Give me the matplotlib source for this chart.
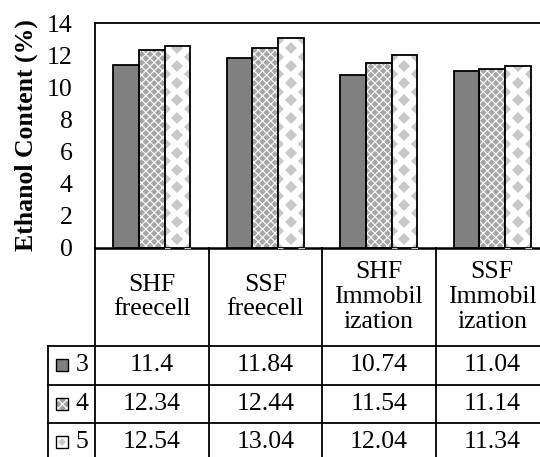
import numpy as np
import matplotlib
matplotlib.use('Agg')
import matplotlib.pyplot as plt
from matplotlib.patches import Rectangle

plt.rcParams['font.family'] = ['Liberation Serif', 'DejaVu Serif']
plt.rcParams['hatch.linewidth'] = 0.8

categories = ['SHF\nfreecell', 'SSF\nfreecell', 'SHF\nImmobil\nization', 'SSF\nImmobil\nization']
series = ['3', '4', '5']
val_3 = [11.4, 11.84, 10.74, 11.04]
val_4 = [12.34, 12.44, 11.54, 11.14]
val_5 = [12.54, 13.04, 12.04, 11.34]
yticks = [0, 2, 4, 6, 8, 10, 12, 14]

values = [val_3, val_4, val_5]

# figure layout in pixels
W, H = 540, 457
cat_w = 113.5
x_left, y_top, y_base = 95, 23, 248
key_left = 48
head_h, row_h = 98, 38.5
fs = 18.5
lw = 1.3
dark = '#808080'
checker_face, checker_line = '#a6a6a6', 'white'
diamond = '#c8c8c8'

fig = plt.figure(figsize=(W / 100, H / 100), dpi=100)
ax = fig.add_axes([x_left / W, 1 - y_base / H, 4 * cat_w / W, (y_base - y_top) / H])

x = np.arange(len(categories))
bw = 0.225
offs = [-bw, 0, bw]

for i, vals in enumerate(values):
    xs = x + offs[i]
    if i == 0:
        ax.bar(xs, vals, bw, color=dark, edgecolor='black', linewidth=lw, zorder=3)
    elif i == 1:
        ax.bar(xs, vals, bw, color=checker_face, edgecolor=checker_line, hatch='xxxx',
               linewidth=0, zorder=2)
        ax.bar(xs, vals, bw, fill=False, edgecolor='black', linewidth=lw, zorder=3)
    else:
        ax.bar(xs, vals, bw, color='white', linewidth=0, zorder=3.2)
        outlines = ax.bar(xs, vals, bw, fill=False, edgecolor='black', linewidth=lw, zorder=3.6)
        # diamond fill pattern, clipped to each bar
        period = 1.08
        for b, xc, v in zip(outlines, xs, vals):
            ys_c = np.arange(period / 2, v + period, period)
            ys_e = np.arange(0, v + period, period)
            px = np.concatenate([np.full(len(ys_c), xc), np.full(len(ys_e), xc - bw / 2),
                                 np.full(len(ys_e), xc + bw / 2)])
            py = np.concatenate([ys_c, ys_e, ys_e])
            ln, = ax.plot(px, py, 'D', ms=5.8, color=diamond, mew=0, zorder=3.4)
            ln.set_clip_path(b)

ax.set_xlim(-0.5, 3.5)
ax.set_ylim(0, 14)
ax.set_yticks(yticks)
ax.set_xticks([])
ax.tick_params(axis='y', length=0, pad=16, labelsize=fs)
for s in ax.spines.values():
    s.set_linewidth(lw)
    s.set_color('black')
ax.spines['bottom'].set_linewidth(1.8)
ax.set_ylabel('Ethanol Content (%)', fontsize=fs, fontweight='bold')
ax.yaxis.set_label_coords(-0.126, 0.5)

# data table under the chart
y_end = y_base + head_h + 3 * row_h
tx = fig.add_axes([key_left / W, 1 - y_end / H, (x_left + 4 * cat_w - key_left) / W,
                   (y_end - y_base) / H])
kx0 = -0.5 - (x_left - key_left) / cat_w
tx.set_xlim(kx0, 3.5)
tx.set_ylim(y_end, y_base)
tx.axis('off')

rows = [y_base + head_h + k * row_h for k in range(4)]
for yy in rows:
    tx.plot([kx0, 3.5], [yy, yy], color='black', lw=lw, clip_on=False)
tx.plot([kx0, kx0], [rows[0], rows[-1]], color='black', lw=lw, clip_on=False)
for xb in np.arange(-0.5, 4.0, 1.0):
    tx.plot([xb, xb], [y_base, y_end], color='black', lw=lw, clip_on=False)

for j, c in enumerate(categories):
    tx.text(x[j], y_base + head_h / 2, c, ha='center', va='center', fontsize=fs,
            linespacing=1.15)

px_x = 1 / cat_w
ks = 12
kx = kx0 + 8 * px_x
for i, vals in enumerate(values):
    yc = rows[i] + row_h / 2
    for j, v in enumerate(vals):
        tx.text(x[j], yc, f'{v:g}', ha='center', va='center', fontsize=fs)
    # legend key
    if i == 0:
        tx.add_patch(Rectangle((kx, yc - ks / 2), ks * px_x, ks, facecolor=dark,
                               edgecolor='black', lw=1.0))
    elif i == 1:
        tx.add_patch(Rectangle((kx, yc - ks / 2), ks * px_x, ks, facecolor=checker_face,
                               edgecolor=checker_line, hatch='xxxx', lw=0))
        tx.add_patch(Rectangle((kx, yc - ks / 2), ks * px_x, ks, fill=False,
                               edgecolor='black', lw=1.0))
    else:
        tx.add_patch(Rectangle((kx, yc - ks / 2), ks * px_x, ks, facecolor='white',
                               edgecolor='black', lw=1.0))
        tx.plot(kx + ks / 2 * px_x, yc, 'D', ms=4, color=diamond, mew=0)
    tx.text(kx0 + 34 * px_x, yc, series[i], ha='center', va='center', fontsize=fs)

fig.savefig('out.png', dpi=100)
